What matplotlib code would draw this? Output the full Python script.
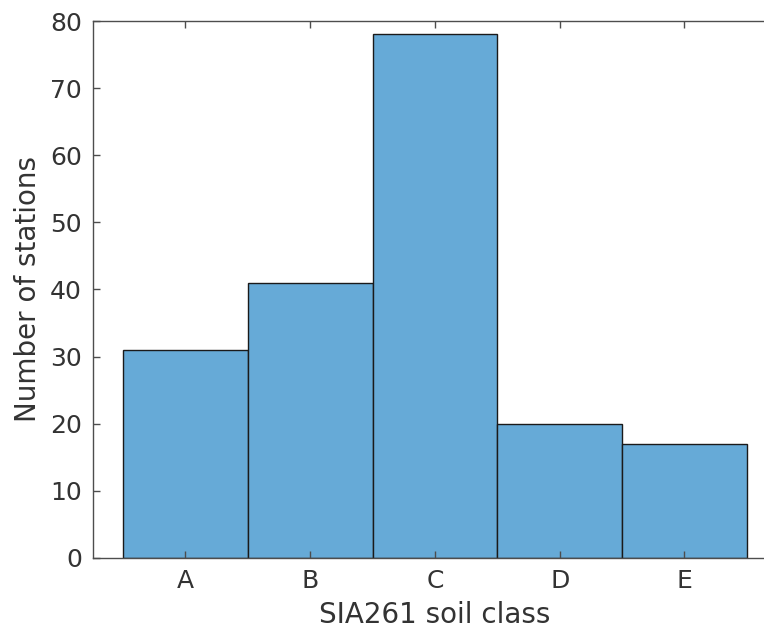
import numpy as np
import matplotlib.pyplot as plt

# Station counts per soil class
classes = ["A", "B", "C", "D", "E"]
counts = [31, 41, 78, 20, 17]

fig = plt.figure(figsize=(7.64, 6.29), dpi=100)
ax = fig.add_axes([0.1217, 0.1129, 0.8953, 0.8537])

x = np.arange(len(classes))
ax.bar(x, counts, width=1.0, color="#66AAD7", edgecolor="#1a1a1a", linewidth=1.0)

ax.set_xlim(-0.7415, 4.7415)
ax.set_ylim(0, 80)
ax.set_xticks(x)
ax.set_xticklabels(classes)
ax.set_yticks(np.arange(0, 81, 10))

axis_col = "#4d4d4d"
for s in ax.spines.values():
    s.set_color(axis_col)
    s.set_linewidth(1.0)
ax.tick_params(direction="in", length=5, width=1, colors=axis_col,
               labelcolor="#333333", labelsize=18, top=True, right=True, pad=8)

ax.set_xlabel("SIA261 soil class", fontsize=20, color="#333333", labelpad=6)
ax.set_ylabel("Number of stations", fontsize=20, color="#333333", labelpad=6)

fig.savefig("out.png", dpi=100)
